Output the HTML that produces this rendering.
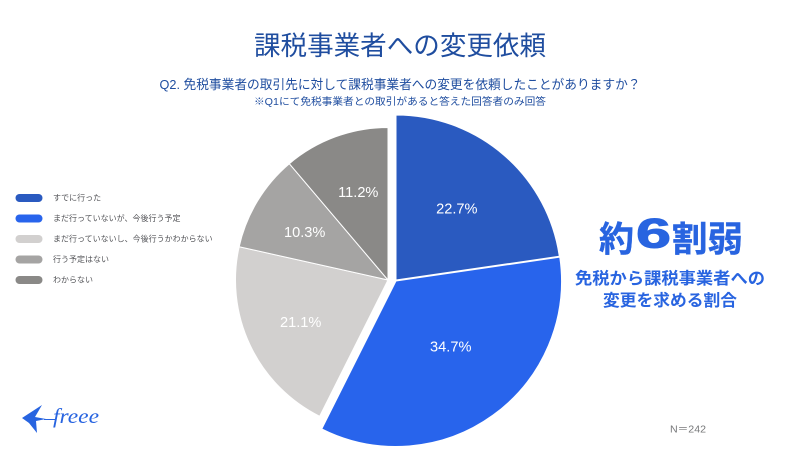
<!DOCTYPE html>
<html lang="ja">
<head>
<meta charset="utf-8">
<title>課税事業者への変更依頼</title>
<style>
  html, body { margin: 0; padding: 0; background: #fff; }
  #chart { display: block; width: 800px; height: 450px; background: #fff; }
  text { font-family: "Liberation Sans", "Noto Sans CJK JP", sans-serif; }
  .slice { stroke: #fff; stroke-width: 1; stroke-linejoin: round; }
  .c0 { fill: #2a5ac0; }
  .c1 { fill: #2864ec; }
  .c2 { fill: #d2d0cf; }
  .c3 { fill: #a5a4a3; }
  .c4 { fill: #8a8987; }
  .value { fill: #fff; font-size: 14.6px; text-anchor: middle; dominant-baseline: central; }
  .legend-text { fill: #55565a; font-size: 8px; dominant-baseline: central; }
</style>
</head>
<body>
<svg id="chart" xmlns="http://www.w3.org/2000/svg" width="800" height="450" viewBox="0 0 800 450">
  <text x="400" y="46" text-anchor="middle" dominant-baseline="central" font-size="26.5" fill="#1f4d9f" textLength="292" lengthAdjust="spacingAndGlyphs">課税事業者への変更依頼</text>
  <text x="400" y="84.5" text-anchor="middle" dominant-baseline="central" font-size="13.2" fill="#1f4d9f" textLength="481" lengthAdjust="spacingAndGlyphs">Q2. 免税事業者の取引先に対して課税事業者への変更を依頼したことがありますか？</text>
  <text x="400" y="102.5" text-anchor="middle" dominant-baseline="central" font-size="10.2" fill="#1f4d9f" textLength="292" lengthAdjust="spacingAndGlyphs">※Q1にて免税事業者との取引があると答えた回答者のみ回答</text>

  <g id="slices"></g>
  <g id="values"></g>
  <g id="legend"></g>

  <g fill="#2864e0" font-weight="700">
    <g>
      <text x="599" y="240" dominant-baseline="central" font-size="35" stroke="#2864e0" stroke-width="0.4" textLength="35" lengthAdjust="spacingAndGlyphs">約</text>
      <text x="636" y="247.5" font-size="42" stroke="#2864e0" stroke-width="1" textLength="35" lengthAdjust="spacingAndGlyphs">6</text>
      <text x="672" y="240" dominant-baseline="central" font-size="35" stroke="#2864e0" stroke-width="0.4" textLength="71" lengthAdjust="spacingAndGlyphs">割弱</text>
    </g>
    <text x="670" y="279" text-anchor="middle" dominant-baseline="central" font-size="16.5" textLength="190" lengthAdjust="spacingAndGlyphs">免税から課税事業者への</text>
    <text x="670" y="301" text-anchor="middle" dominant-baseline="central" font-size="16.5" textLength="134" lengthAdjust="spacingAndGlyphs">変更を求める割合</text>
  </g>

  <text x="670" y="430" dominant-baseline="central" font-size="10" fill="#77787a" textLength="36" lengthAdjust="spacingAndGlyphs">N＝242</text>

  <g>
    <path fill="#2864e0" d="M22 418 L42 405 L35 417 L46 419 L36 421 L37 433 L29 423 Z"/>
    <path fill="none" stroke="#2864e0" stroke-width="1" d="M44 419.5 L56 419.5"/>
    <text x="53" y="423" font-size="21" font-style="italic" fill="#2864e0" style="font-family:'Liberation Serif',serif" textLength="46" lengthAdjust="spacingAndGlyphs">freee</text>
  </g>
</svg>

<script>
const categories = ['すでに行った', 'まだ行っていないが、今後行う予定', 'まだ行っていないし、今後行うかわからない', '行う予定はない', 'わからない'];
const values = [22.7, 34.7, 21.1, 10.3, 11.2];

const svgNS = 'http://www.w3.org/2000/svg';
const total = values.reduce(function (a, b) { return a + b; }, 0);

function angleScale(v) {
  return (v / total) * Math.PI * 2;
}
function geometry(i) {
  if (i === 0) return { cx: 396, cy: 280, r: 165, lr: 93, dx: 0, dy: 0 };
  if (i === 1) return { cx: 396, cy: 281, r: 165.5, lr: 85, dx: 5, dy: -2.5 };
  if (i === 2) return { cx: 388, cy: 280, r: 152.5, lr: 95, dx: -1.5, dy: 2.5 };
  if (i === 3) return { cx: 388, cy: 280, r: 152.5, lr: 95, dx: -2, dy: 2 };
  return { cx: 388, cy: 280, r: 152.5, lr: 95, dx: 3, dy: 2 };
}
function point(g, a, r) {
  return [g.cx + r * Math.sin(a), g.cy - r * Math.cos(a)];
}

const sliceGroup = document.getElementById('slices');
const valueGroup = document.getElementById('values');
const legendGroup = document.getElementById('legend');

let running = 0;
values.forEach(function (v, i) {
  const a0 = angleScale(running);
  const a1 = angleScale(running + v);
  running += v;
  const g = geometry(i);
  const p0 = point(g, a0, g.r);
  const p1 = point(g, a1, g.r);
  const large = a1 - a0 > Math.PI ? 1 : 0;

  const path = document.createElementNS(svgNS, 'path');
  path.setAttribute('class', 'slice c' + i);
  path.setAttribute('d', 'M' + g.cx + ' ' + g.cy + ' L' + p0[0] + ' ' + p0[1] + ' A' + g.r + ' ' + g.r + ' 0 ' + large + ' 1 ' + p1[0] + ' ' + p1[1] + ' Z');
  
  
  sliceGroup.appendChild(path);

  const lp = point(g, (a0 + a1) / 2, g.lr);
  const label = document.createElementNS(svgNS, 'text');
  label.setAttribute('class', 'value');
  label.setAttribute('x', lp[0] + g.dx);
  label.setAttribute('y', lp[1] + g.dy);
  label.textContent = v.toFixed(1) + '%';
  
  
  valueGroup.appendChild(label);
});

categories.forEach(function (name, i) {
  const y = 198 + i * 20.5;
  const swatch = document.createElementNS(svgNS, 'rect');
  swatch.setAttribute('class', 'c' + i);
  swatch.setAttribute('x', 15.5);
  swatch.setAttribute('y', y - 4);
  swatch.setAttribute('width', 27);
  swatch.setAttribute('height', 8);
  swatch.setAttribute('rx', 4);
  
  
  legendGroup.appendChild(swatch);

  const text = document.createElementNS(svgNS, 'text');
  text.setAttribute('class', 'legend-text');
  text.setAttribute('x', 53);
  text.setAttribute('y', y);
  text.textContent = name;
  
  
  legendGroup.appendChild(text);
});
</script>
</body>
</html>
